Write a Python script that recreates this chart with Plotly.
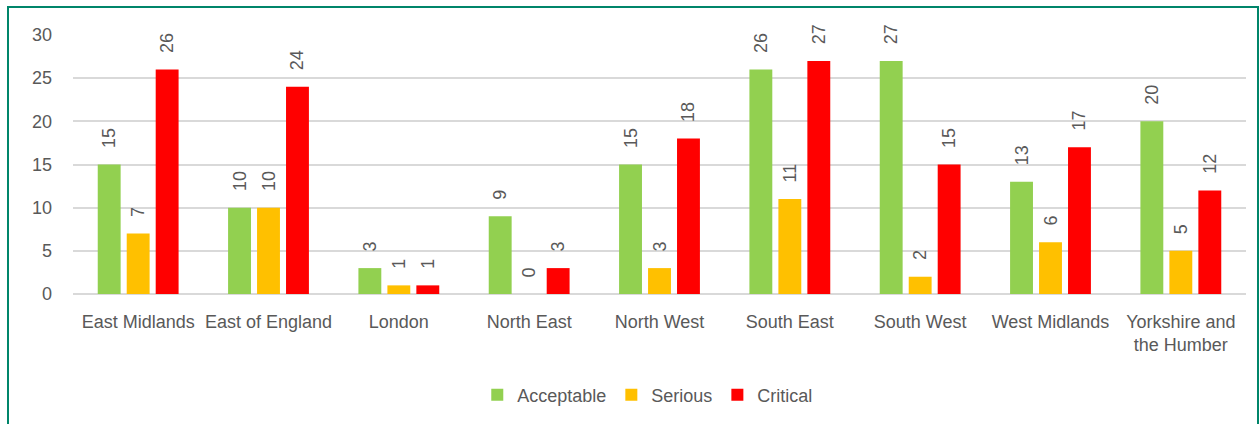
import plotly.graph_objects as go

regions = ["East Midlands", "East of England", "London", "North East", "North West",
           "South East", "South West", "West Midlands", "Yorkshire and<br>the Humber"]
acceptable = [15, 10, 3, 9, 15, 26, 27, 13, 20]
serious = [7, 10, 1, 0, 3, 11, 2, 6, 5]
critical = [26, 24, 1, 3, 18, 27, 15, 17, 12]
y_ticks = [0, 5, 10, 15, 20, 25, 30]

series = [
    ("Acceptable", acceptable, "#92D050"),
    ("Serious", serious, "#FFC000"),
    ("Critical", critical, "#FF0000"),
]

W, H = 1259, 424
ML, MR, MT, MB = 73, 13, 35, 129
FONT = "Liberation Sans, Arial, sans-serif"
GREY = "#595959"
PAD = "\u00a0\u00a0\u2009"  # lifts the rotated value labels clear of the bar tops

fig = go.Figure()
for name, vals, color in series:
    fig.add_trace(go.Bar(
        name=name, x=regions, y=vals,
        marker=dict(color=color, line=dict(width=0)),
        text=[PAD + str(v) for v in vals], textposition="outside", textangle=-90,
        constraintext="none", cliponaxis=False,
        textfont=dict(family=FONT, size=18, color=GREY),
    ))

# Outer frame around the whole chart
pw, ph = W - ML - MR, H - MT - MB
fx0, fx1 = (8 - ML) / pw, (1258 - ML) / pw
fy1 = 1 + (MT - 7) / ph
fy0 = -(MB + 10) / ph
fig.add_shape(type="rect", xref="paper", yref="paper",
              x0=fx0, x1=fx1, y0=fy0, y1=fy1,
              line=dict(color="#00856A", width=2), fillcolor="rgba(0,0,0,0)", layer="above")

fig.update_layout(
    width=W, height=H,
    margin=dict(l=ML, r=MR, t=MT, b=MB),
    paper_bgcolor="white", plot_bgcolor="white",
    barmode="group", bargap=0.333, bargroupgap=0.21,
    font=dict(family=FONT, size=18, color=GREY),
    showlegend=True,
    legend=dict(orientation="h", x=0.49, xanchor="center", y=-(395 - 295) / ph, yanchor="middle",
                font=dict(family=FONT, size=18, color=GREY), itemwidth=30,
                traceorder="normal"),
    xaxis=dict(showgrid=False, showline=False, ticks="", ticklabelstandoff=15,
               tickfont=dict(size=18, color=GREY)),
    yaxis=dict(range=[0, 30], tickvals=y_ticks, showgrid=True, gridcolor="#D9D9D9",
               gridwidth=2, zeroline=True, zerolinecolor="#D9D9D9", zerolinewidth=2,
               showline=False, ticks="", ticklabelstandoff=20,
               tickfont=dict(size=18, color=GREY)),
)

fig.write_html("out.html")
